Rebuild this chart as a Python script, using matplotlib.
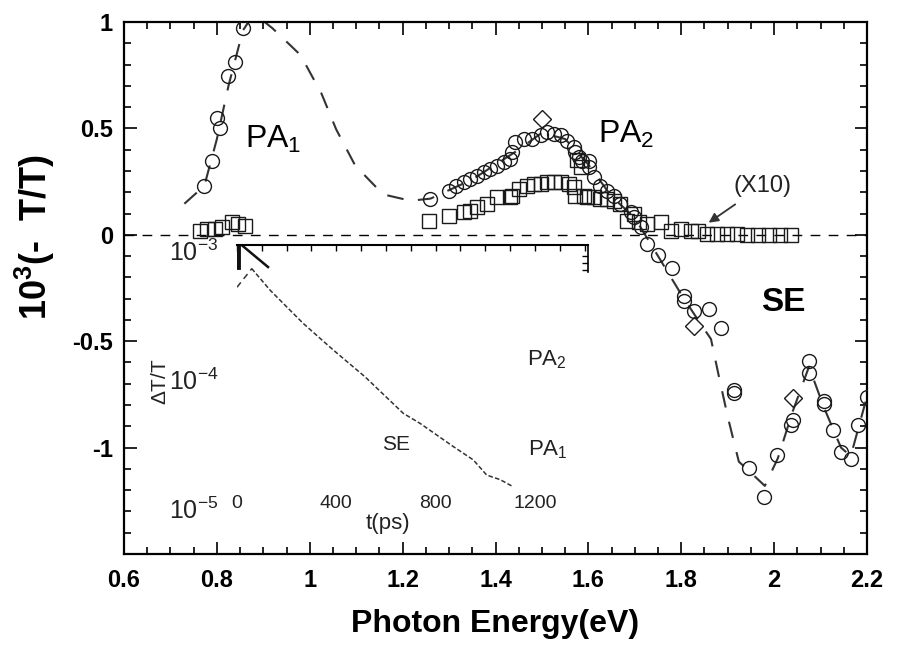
import matplotlib
matplotlib.use("Agg")
import matplotlib.pyplot as plt
from matplotlib.ticker import MultipleLocator, FixedLocator, NullFormatter
import matplotlib.transforms as mtrans

plt.rcParams['font.family'] = ['Liberation Sans', 'DejaVu Sans']
plt.rcParams['mathtext.fontset'] = 'custom'
plt.rcParams['mathtext.rm'] = 'Liberation Sans'
plt.rcParams['mathtext.it'] = 'Liberation Sans'
plt.rcParams['mathtext.bf'] = 'Liberation Sans:bold'

# ---------------- data (main panel) ----------------
circ_E = [0.773, 0.789, 0.800, 0.807, 0.825, 0.839, 0.856,
          1.260, 1.299, 1.314, 1.332, 1.346, 1.361, 1.375, 1.389, 1.404, 1.418,
          1.432, 1.436, 1.443, 1.461, 1.479, 1.497, 1.511, 1.526, 1.540, 1.555,
          1.569, 1.572, 1.580, 1.587, 1.601, 1.601, 1.612, 1.626, 1.641, 1.655,
          1.669, 1.691, 1.698, 1.713, 1.727, 1.749, 1.780, 1.805, 1.805, 1.827,
          1.859, 1.885, 1.913, 1.913, 1.946, 1.978, 2.006, 2.040, 2.036, 2.075,
          2.075, 2.107, 2.107, 2.127, 2.144, 2.165, 2.181, 2.200]
circ_v = [0.230, 0.346, 0.550, 0.500, 0.745, 0.810, 0.970,
          0.170, 0.207, 0.231, 0.247, 0.263, 0.278, 0.294, 0.310, 0.325, 0.341,
          0.357, 0.388, 0.436, 0.451, 0.451, 0.467, 0.483, 0.475, 0.467, 0.443,
          0.412, 0.388, 0.365, 0.349, 0.349, 0.318, 0.270, 0.231, 0.208, 0.184,
          0.145, 0.105, 0.082, 0.035, -0.044, -0.095, -0.157, -0.288, -0.311, -0.358,
          -0.349, -0.439, -0.730, -0.745, -1.094, -1.231, -1.033, -0.868, -0.892, -0.594,
          -0.651, -0.783, -0.797, -0.915, -1.019, -1.052, -0.892, -0.764]

diam_E = [1.500, 1.827, 2.040]
diam_v = [0.546, -0.429, -0.769]

sq_E = [0.764, 0.778, 0.796, 0.811, 0.832, 0.846, 0.861,
        1.256, 1.299, 1.332, 1.346, 1.361, 1.382, 1.404, 1.432, 1.436, 1.450,
        1.468, 1.483, 1.497, 1.511, 1.526, 1.540, 1.558, 1.569, 1.572, 1.575,
        1.585, 1.590, 1.598, 1.612, 1.626, 1.641, 1.655, 1.669, 1.684, 1.698,
        1.709, 1.727, 1.756, 1.777, 1.799, 1.820, 1.835, 1.856, 1.878, 1.899,
        1.921, 1.942, 1.965, 1.990, 2.013, 2.036]
sq_v = [0.019, 0.027, 0.027, 0.035, 0.058, 0.050, 0.042,
        0.066, 0.090, 0.105, 0.113, 0.129, 0.145, 0.176, 0.176, 0.184, 0.215,
        0.231, 0.239, 0.239, 0.247, 0.247, 0.247, 0.239, 0.223, 0.184, 0.350,
        0.320, 0.184, 0.176, 0.176, 0.168, 0.168, 0.160, 0.145, 0.066, 0.098,
        0.058, 0.050, 0.058, 0.019, 0.027, 0.019, 0.019, 0.003, 0.003, 0.003,
        0.003, 0.000, 0.000, 0.000, 0.000, 0.000]

fit_E = [0.730, 0.773, 0.800, 0.825, 0.856, 0.880, 0.920, 0.980, 1.025, 1.057,
         1.098, 1.158, 1.217, 1.260, 1.350, 1.450, 1.500, 1.550, 1.600, 1.650,
         1.700, 1.750, 1.800, 1.830, 1.864, 1.881, 1.900, 1.924, 1.946, 1.980,
         2.008, 2.040, 2.075, 2.107, 2.144, 2.165, 2.200]
fit_v = [0.146, 0.230, 0.450, 0.700, 0.960, 1.040, 0.970, 0.845, 0.665, 0.495,
         0.325, 0.190, 0.160, 0.170, 0.260, 0.400, 0.480, 0.450, 0.330, 0.180,
         0.080, -0.100, -0.280, -0.380, -0.490, -0.665, -0.854, -1.066, -1.110, -1.180,
         -1.050, -0.830, -0.620, -0.810, -1.000, -1.040, -0.760]

xticks_main = [0.6, 0.8, 1.0, 1.2, 1.4, 1.6, 1.8, 2.0, 2.2]
xtick_labels = ['0.6', '0.8', '1', '1.2', '1.4', '1.6', '1.8', '2', '2.2']
yticks_main = [-1.0, -0.5, 0.0, 0.5, 1.0]
ytick_labels = ['-1', '-0.5', '0', '0.5', '1']

# ---------------- data (inset) ----------------
se_t = [59, 133, 267, 388, 516, 670, 737, 872, 952, 1006, 1060, 1113]
se_val = [7.21e-4, 4.90e-4, 2.70e-4, 1.68e-4, 1.04e-4, 5.42e-5, 4.54e-5,
          2.99e-5, 2.36e-5, 1.80e-5, 1.66e-5, 1.46e-5]
rise_t = [0, 60]
rise_val = [5.16e-4, 7.20e-4]
pa_t = [20, 125]
pa_val = [1.09e-3, 7.40e-4]
spike_t = [3, 3]
spike_val = [1.09e-3, 7.40e-4]
inset_xticks = [0, 400, 800, 1200]
inset_yticks = [1e-5, 1e-4, 1e-3]

# ---------------- figure ----------------
W, H = 897, 654
fig = plt.figure(figsize=(W / 100, H / 100), dpi=100)
ax = fig.add_axes([124 / W, 1 - 554 / H, (867 - 124) / W, (554 - 22) / H])

ax.axhline(0, color='black', lw=1.0, ls=(0, (7, 6)), zorder=1)
ax.plot(fit_E, fit_v, color='#333333', lw=1.5, ls=(0, (8, 7)), zorder=2)
mk = dict(ls='none', mfc='none', mec='#1a1a1a', mew=1.0, zorder=3)
ax.plot(circ_E, circ_v, marker='o', ms=10, **mk)
ax.plot(diam_E, diam_v, marker='D', ms=9, **mk)
ax.plot(sq_E, sq_v, marker='s', ms=10, **mk)

ax.set_xlim(0.6, 2.2)
ax.set_ylim(-1.5, 1.0)
ax.set_xticks(xticks_main)
ax.set_xticklabels(xtick_labels)
ax.set_yticks(yticks_main)
ax.set_yticklabels(ytick_labels)
ax.xaxis.set_minor_locator(MultipleLocator(0.05))
ax.yaxis.set_minor_locator(MultipleLocator(0.1))
ax.tick_params(which='both', direction='in', top=True, right=True, width=1.2, color='black')
ax.tick_params(which='major', length=9)
ax.tick_params(which='minor', length=5)
ax.tick_params(axis='x', pad=11, labelsize=17)
ax.tick_params(axis='y', pad=8, labelsize=17)
for lab in ax.get_xticklabels() + ax.get_yticklabels():
    lab.set_fontweight('bold')
for s in ax.spines.values():
    s.set_linewidth(1.6)

ax.set_xlabel('Photon Energy(eV)', fontsize=23, fontweight='bold', labelpad=12)
ax.set_ylabel(r'10$^{\mathbf{3}}$(-  T/T)', fontsize=26, fontweight='bold')
ax.yaxis.set_label_coords(-0.09, 0.596)

ax.text(0.861, 0.41, r'PA$_{1}$', fontsize=23, ha='left', va='baseline', zorder=5)
ax.text(1.62, 0.43, r'PA$_{2}$', fontsize=23, ha='left', va='baseline', zorder=5)
ax.text(1.971, -0.36, 'SE', fontsize=24, fontweight='bold', ha='left', va='baseline', zorder=5)
ax.annotate('(X10)', xy=(1.859, 0.057), xytext=(1.974, 0.23), fontsize=17,
            ha='center', va='center', color='#222222',
            arrowprops=dict(arrowstyle='-|>', color='#333333', lw=1.3,
                            mutation_scale=14, shrinkA=6, shrinkB=0))

# ---------------- inset ----------------
axi = fig.add_axes([237 / W, 1 - 508 / H, (588 - 237) / W, (508 - 245) / H])
axi.set_facecolor('none')
axi.set_yscale('log')
axi.set_xlim(0, 1414)
axi.set_ylim(1e-5, 10 ** -2.96)
axi.plot(se_t, se_val, color='#333333', lw=1.1, ls=(0, (3, 1.5)))
axi.plot(rise_t, rise_val, color='#333333', lw=1.1, ls=(0, (4, 3)))
axi.plot(pa_t, pa_val, color='#111111', lw=1.8)
axi.plot(spike_t, spike_val, color='#111111', lw=3.5)

for side in ('left', 'bottom'):
    axi.spines[side].set_visible(False)
axi.spines['top'].set_linewidth(1.5)
axi.spines['right'].set_linewidth(1.2)
axi.spines['right'].set_bounds(6.8e-4, 10 ** -2.96)

axi.set_xticks(inset_xticks)
axi.set_xticklabels([str(v) for v in inset_xticks])
axi.xaxis.set_minor_locator(MultipleLocator(100))
axi.tick_params(axis='x', which='both', direction='in', top=True, bottom=False,
                labelbottom=True, labeltop=False, length=4, width=1.0, pad=-9,
                labelsize=14, labelcolor='#222222')
axi.yaxis.set_major_locator(FixedLocator(inset_yticks))
axi.yaxis.set_minor_locator(FixedLocator([7e-4, 8e-4, 9e-4]))
axi.yaxis.set_minor_formatter(NullFormatter())
axi.tick_params(axis='y', which='major', left=False, right=False, labelleft=True,
                pad=10, labelsize=18, labelcolor='#222222')
axi.tick_params(axis='y', which='minor', left=False, right=True, direction='in',
                length=4, width=1.0)

axi.text(1169, 1.28e-4, r'PA$_{2}$', fontsize=16, ha='left', va='baseline', color='#222222')
axi.text(1173, 2.57e-5, r'PA$_{1}$', fontsize=16, ha='left', va='baseline', color='#222222')
axi.text(584, 2.8e-5, 'SE', fontsize=15, ha='left', va='baseline', color='#222222')
trans = mtrans.blended_transform_factory(axi.transData, axi.transAxes)
axi.text(608, -0.06, 't(ps)', fontsize=16, ha='center', va='center', transform=trans,
         color='#222222')
axi.text(-0.219, 0.479, r'$\Delta$T/T', fontsize=15, rotation=90, ha='center', va='center',
         transform=axi.transAxes, color='#222222')

fig.savefig('out.png', dpi=100)
